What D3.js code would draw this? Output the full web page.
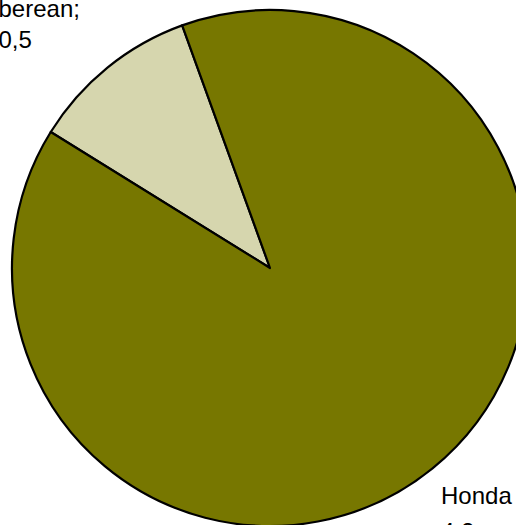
<!DOCTYPE html>
<meta charset="utf-8">
<head>
  <title>Pie</title>
  <script src="https://cdn.jsdelivr.net/npm/d3@7"></script>
  <style>
    body { margin: 0; background: #fff; }
    svg { display: block; }
    .lbl { font-family: "Liberation Sans", Arial, sans-serif; font-size: 24px; fill: #000; }
  </style>
</head>
<body>
<svg width="516" height="525"></svg>
<script>

  var categories = ["berean", "Honda"];   // only the visible part of the first name
  var values = [0.5, 4.2];
  var colors = ["#d6d6ae", "#777700"];

  var cx = 270, cy = 268, r = 258;   // centre and radius of the pie

  var svg = d3.select("svg");
  var g = svg.append("g").attr("transform", "translate(" + cx + "," + cy + ")");

  var pie = d3.pie()
    .sort(null)
    .startAngle(-58.2 * Math.PI / 180)
    .endAngle(-58.2 * Math.PI / 180 + 2 * Math.PI);

  var arc = d3.arc().innerRadius(0).outerRadius(r);

  g.selectAll("path")
    .data(pie(values))
    .enter()
      .append("path")
      .attr("d", arc)
      .attr("fill", function(d, i) { return colors[i]; })
      .attr("stroke", "#000")
      .attr("stroke-width", 2.2)
      .attr("stroke-linejoin", "round");

  // labels sit outside the pie, partly cut by the frame
  var fmt = function(v) { return String(v).replace(".", ","); };

  var lab1 = svg.append("text").attr("class", "lbl");
  lab1.append("tspan").attr("x", -1.5).attr("y", 17).text(categories[0] + ";");
  lab1.append("tspan").attr("x", -1.5).attr("y", 48).text(fmt(values[0]));

  var lab2 = svg.append("text").attr("class", "lbl");
  lab2.append("tspan").attr("x", 441).attr("y", 504).text(categories[1]);
  lab2.append("tspan").attr("x", 441).attr("y", 540).text(fmt(values[1]));

</script>
</body>
</html>
